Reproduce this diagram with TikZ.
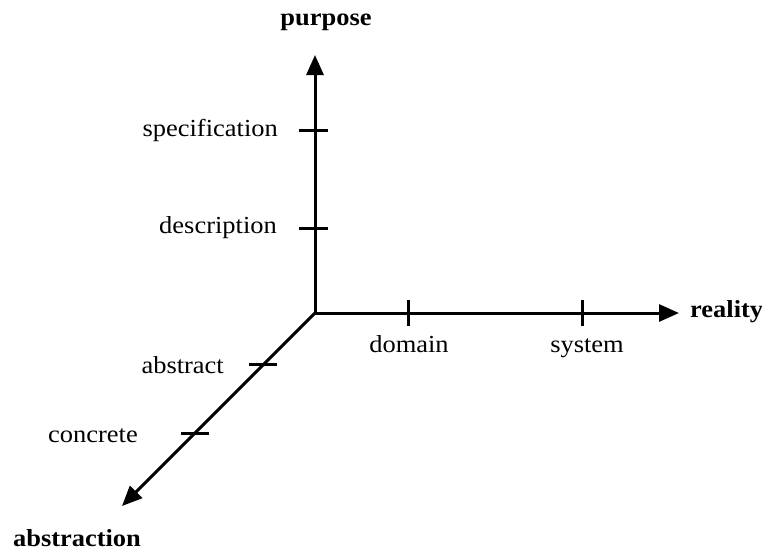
\documentclass[tikz,border=0pt]{standalone}
\usepackage{fontspec}
\setmainfont{Liberation Serif}[FakeStretch=1.08]
\usetikzlibrary{arrows.meta}
\begin{document}
\begin{tikzpicture}[x=1pt,y=-1pt,
  axis/.style={line width=3pt,-{Triangle[length=20pt,width=17pt]}},
  tickmark/.style={line width=3pt},
  lbl/.style={font=\fontsize{24.5}{28}\selectfont,inner sep=0pt},
  axlbl/.style={font=\fontsize{24.5}{28}\selectfont\bfseries,inner sep=0pt}]
\useasboundingbox (0,0) rectangle (762,550);
\coordinate (O) at (315,313);
\coordinate (up) at (315,55);
\coordinate (right) at (679,313);
\coordinate (diag) at (122,506);
\draw[axis] (O) -- (up);
\draw[axis] (O) -- (right);
\draw[axis] (O) -- (diag);
% ticks on vertical axis
\coordinate (spec) at (314,130);
\coordinate (desc) at (314,228);
\draw[tickmark] ([xshift=-15pt]spec) -- ([xshift=14pt]spec);
\draw[tickmark] ([xshift=-15pt]desc) -- ([xshift=14pt]desc);
% ticks on horizontal axis
\coordinate (dom) at (408,313);
\coordinate (sys) at (582,313);
\draw[tickmark] ([yshift=-13pt]dom) -- ([yshift=13pt]dom);
\draw[tickmark] ([yshift=-13pt]sys) -- ([yshift=13pt]sys);
% ticks on diagonal axis
\coordinate (abs) at (263,364);
\coordinate (con) at (195,433);
\draw[tickmark] ([xshift=-14pt]abs) -- ([xshift=14pt]abs);
\draw[tickmark] ([xshift=-14pt]con) -- ([xshift=14pt]con);
% labels
\node[lbl,anchor=base east] (lspec) at (278,136) {specification};
\node[lbl,anchor=base east] (ldesc) at (277,233) {description};
\node[lbl,anchor=base] (ldom) at (409,352) {domain};
\node[lbl,anchor=base] (lsys) at (587,352) {system};
\node[lbl,anchor=base east] (labs) at (224,373) {abstract};
\node[lbl,anchor=base east] (lcon) at (138,442) {concrete};
\node[axlbl,anchor=base] (lpur) at (326,25) {purpose};
\node[axlbl,anchor=base west] (lrea) at (690,317) {reality};
\node[axlbl,anchor=base] (labst) at (77,546) {abstraction};
\end{tikzpicture}
\end{document}
